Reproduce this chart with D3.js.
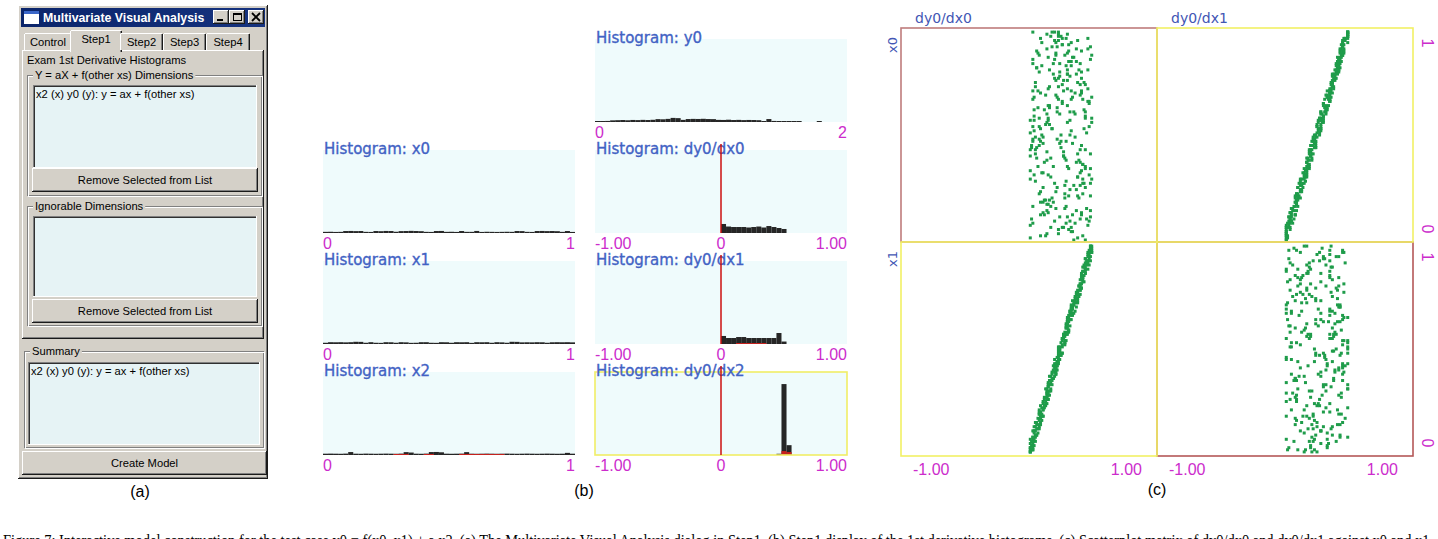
<!DOCTYPE html>
<html><head><meta charset="utf-8">
<script src="https://cdn.jsdelivr.net/npm/d3@7"></script>
<style>body{margin:0;background:#fff}svg{display:block}</style>
</head><body>
<script>
// ---------------- DATA ----------------
const tabLabels = ["Control", "Step1", "Step2", "Step3", "Step4"];
const dimensionItems = ["x2 (x) y0 (y): y = ax + f(other xs)"];
const ignorableItems = [];
const summaryItems = ["x2 (x) y0 (y): y = ax + f(other xs)"];

// histogram counts, 50 bins each
const x0Counts = [14,15,13,14,24,25,23,24,14,13,24,22,25,24,15,23,24,26,24,22,14,13,24,25,14,15,13,24,14,14,25,13,15,14,13,14,15,14,24,23,14,13,24,25,23,24,22,14,24,13];
const x1Counts = [15,22,21,22,20,22,27,26,15,22,15,14,22,21,15,22,20,14,15,22,22,15,14,22,21,15,22,21,22,14,22,21,22,15,22,20,15,27,26,20,21,20,22,21,15,21,22,21,22,20];
const x2Counts = [16,17,16,15,17,36,16,15,17,16,15,16,17,16,15,17,35,30,16,15,17,36,37,33,16,15,16,17,35,16,15,16,17,16,15,16,17,16,15,16,17,16,15,16,17,16,15,16,26,16];
const x2Selected = [0,0,0,0,0,0,0,0,0,0,0,0,0,0,11,12,11,0,0,0,11,12,0,0,0,0,0,11,12,11,12,11,12,11,12,11,0,0,0,0,0,0,0,0,0,0,0,0,0,0];
const y0Counts = [10,12,13,20,22,24,21,25,23,26,24,27,35,33,38,50,47,26,36,38,37,39,36,35,26,25,28,24,26,23,25,24,22,12,36,13,11,12,10,12,11,0,0,0,12,0,0,0,0,0];
const dx0Counts = [0,0,0,0,0,0,0,0,0,0,0,0,0,0,0,0,0,0,0,0,0,0,0,0,0,110,79,73,73,73,67,73,79,67,85,73,61,49,0,0,0,0,0,0,0,0,0,0,0,0];
const dx1Counts = [0,0,0,0,0,0,0,0,0,0,0,0,0,0,0,0,0,0,0,0,0,0,0,0,0,98,73,73,85,85,73,73,73,73,73,73,134,30,0,0,0,0,0,0,0,0,0,0,0,0];
const dx1Selected = [0,0,0,0,0,0,0,0,0,0,0,0,0,0,0,0,0,0,0,0,0,0,0,0,0,0,0,0,9,10,11,10,9,10,0,0,0,0,0,0,0,0,0,0,0,0,0,0,0,0];
const dx2Counts = [0,0,0,0,0,0,0,0,0,0,0,0,0,0,0,0,0,0,0,0,0,0,0,0,0,0,0,0,0,0,0,0,0,0,0,0,15,865,120,0,0,0,0,0,0,0,0,0,0,0];
const dx2Selected = [0,0,0,0,0,0,0,0,0,0,0,0,0,0,0,0,0,0,0,0,0,0,0,0,0,0,0,0,0,0,0,0,0,0,0,0,0,48,36,0,0,0,0,0,0,0,0,0,0,0];

const xTickVals = [0, 1], xTickLabels = ["0", "1"];
const y0TickVals = [0, 2], y0TickLabels = ["0", "2"];
const dTickVals = [-1, 0, 1], dTickLabels = ["-1.00", "0", "1.00"];
const unitTickVals = [0, 1], unitTickLabels = ["0", "1"];

// samples (hundredths) used by the scatterplot matrix
const x0Samples = [37,82,5,64,91,23,48,70,13,56,88,31,67,9,44,75,19,96,52,27,60,3,85,41,72,16,94,35,58,80,11,47,69,26,99,54,8,83,38,62,21,77,43,90,15,66,32,87,50,6,73,29,95,57,12,84,40,68,2,46,93,18,61,34,79,7,53,25,89,71,36,65,10,81,49,97,22,59,76,4,55,14,86,30,63,42,98,17,74,51,28,92,45,1,78,33,67,86,20,58,9,71,39,84,24,62,95,11,47,80,53,16,90,36,73,0,57,29,66,42,77,3,49,88,21,64,34,99,12,70,45,83,27,60,8,93,51,18,75,38,97,32,69,14,56,81,6,43,89,25,63,10,78,48,30,92,19,72,54,1,85,40,22,67,96,35,61,13,80,47,26,58,94,5,74,44,87,31,68,15,50,79,37,98,20,65,9,83,41,57,12,91,46,70,28,55,2,76,33,95,68,24,82,39,61,17,89,52,7,73,34,99,11,58,84,43,26,71,96,18,81,6,62,30,47,93,15,66,37,79,4,54,88,22,72,49,97,10,63,41,59,35,14,77,91,27,68,46,85,20,90,48,71,8,53,38,81,23,60,99,16,86,32,64,2,75,44,94,29,56,74,21,57,96,40,12,69,35,87,50,43,67,0,84,25,79,53,6,92,31,98,13,76,45,61,19,88,39,71,27];
const x1Samples = [72,14,58,33,96,41,7,85,26,63,19,90,47,68,2,77,35,54,11,83,45,29,71,8,92,60,38,17,86,50,97,62,24,81,43,13,75,57,30,4,66,39,88,15,53,95,21,70,47,34,9,84,42,61,27,78,56,99,18,73,52,25,67,91,36,3,82,44,64,12,87,48,6,58,74,31,16,93,40,69,23,76,94,37,10,55,65,28,89,1,60,35,19,72,49,86,5,41,80,26,93,57,30,6,68,22,77,51,14,84,38,2,63,89,44,71,11,96,55,27,79,46,15,54,97,33,59,8,67,20,4,70,85,28,61,48,92,36,13,75,51,18,43,98,24,80,64,1,39,88,30,91,67,12,78,42,26,57,95,7,74,3,53,87,17,62,40,83,21,48,58,96,22,45,83,9,71,34,66,90,16,63,79,31,52,94,45,19,76,5,85,27,50,68,11,37,82,60,2,43,42,77,9,56,93,26,14,69,88,35,99,33,61,20,47,81,72,3,54,17,28,55,90,74,6,65,38,97,23,62,67,11,41,84,32,18,53,78,46,92,13,86,29,49,70,99,7,24,59,36,81,44,68,2,39,57,94,15,73,50,35,8,76,63,25,89,47,66,1,98,55,73,32,91,57,14,80,42,29,64,6,69,87,40,18,75,23,51,96,10,48,21,56,79,64,31,97,12,84,37];
const dx0Samples = [37,6,31,16,46,21,3,41,15,30,8,47,23,32,2,38,16,29,4,42,24,14,33,5,46,29,21,7,44,24,48,29,13,40,20,8,36,29,14,4,31,20,44,6,28,46,11,34,25,17,5,42,20,32,12,40,27,49,9,34,26,11,35,44,19,1,43,22,30,7,42,26,2,30,36,17,8,44,21,34,13,37,48,17,7,27,30,15,44,1,29,18,8,38,24,41,3,20,39,15,47,27,17,3,32,12,38,24,9,41,18,3,31,42,23,35,4,49,26,14,41,23,5,28,48,15,31,3,34,9,2,33,43,14,29,26,45,19,5,39,23,10,21,48,14,39,33,1,21,44,16,45,32,8,38,22,12,30,47,1,37,1,28,42,9,30,22,41,8,25,28,49,10,23,40,6,35,15,34,45,10,30,40,14,28,47,20,10,38,1,41,14,24,36,5,16,42,30,1,23,22,37,6,28,44,14,7,33,46,16,48,18,30,8,24,40,35,3,26,9,16,27,43,38,3,31,21,47,12,30,33,3,21,42,15,11,25,40,22,48,4,44,14,23,37,48,4,11,31,18,41,22,33,3,18,29,46,9,36,23,17,3,40,30,13,43,25,33,1,49,26,38,15,46,27,9,40,19,15,32,5,33,44,19,11,37,9,26,48,4,23,11,27,41,32,13,49,6,41,20];
const dx1Samples = [17,41,4,30,46,12,23,35,4,30,44,17,31,5,23,36,9,46,28,12,32,1,43,21,35,8,45,19,28,40,3,24,35,12,49,25,6,40,19,33,11,39,20,45,5,35,15,43,27,1,37,13,47,26,8,41,20,36,1,24,45,9,28,19,38,3,28,10,45,36,18,30,7,39,24,49,9,30,39,1,25,9,42,15,33,19,49,9,36,25,16,45,22,2,37,17,34,42,10,27,3,35,21,40,13,32,46,5,21,42,26,10,43,19,37,1,28,12,35,20,40,1,25,45,9,32,15,49,5,35,20,42,14,29,4,44,27,8,37,21,49,17,33,7,26,42,2,21,46,10,32,4,39,22,17,45,9,38,25,1,41,20,9,35,47,17,32,4,41,24,13,27,49,1,37,24,41,16,35,6,23,41,17,49,12,30,5,42,19,28,8,44,23,37,12,28,2,37,16,45,33,12,43,17,31,9,43,26,1,38,17,49,3,30,43,20,13,33,49,8,42,1,32,16,22,46,5,35,17,39,1,28,45,10,36,22,49,4,31,22,30,18,6,38,43,15,33,23,44,8,46,23,35,2,28,18,40,13,28,49,7,43,14,34,1,37,24,45,15,29,37,8,30,47,20,8,32,18,44,24,19,35,1,42,14,37,27,4,45,15,49,5,38,24,28,10,45,18,35,11];

const captionText = "Figure 7: Interactive model construction for the test case y0 = f(x0, x1) + a x2. (a) The Multivariate Visual Analysis dialog in Step1. (b) Step1 display of the 1st derivative histograms. (c) Scatterplot matrix of dy0/dx0 and dy0/dx1 against x0 and x1.";

// ---------------- DRAW ----------------
const W = 1438, H = 539;
const UI = "'Liberation Sans', Arial, sans-serif";
const DV = "'DejaVu Sans', Verdana, sans-serif";
const svg = d3.select("body").append("svg").attr("width", W).attr("height", H);
svg.append("rect").attr("width", W).attr("height", H).attr("fill", "#fff");
const defs = svg.append("defs");
const grad = defs.append("linearGradient").attr("id", "tb");
grad.append("stop").attr("offset", "0%").attr("stop-color", "#0a246a");
grad.append("stop").attr("offset", "100%").attr("stop-color", "#16337f");
const g = svg.append("g");

function R(x, y, w, h, fill, stroke, sw) {
  return g.append("rect").attr("x", x).attr("y", y).attr("width", w).attr("height", h)
    .attr("fill", fill || "none").attr("stroke", stroke || "none").attr("stroke-width", sw || 1);
}
function L(x1, y1, x2, y2, c, sw) {
  return g.append("line").attr("x1", x1).attr("y1", y1).attr("x2", x2).attr("y2", y2)
    .attr("stroke", c).attr("stroke-width", sw || 1);
}
function T(x, y, s, size, fill, anchor, fam) {
  return g.append("text").attr("x", x).attr("y", y).text(s)
    .attr("font-family", fam || UI).attr("font-size", size)
    .attr("fill", fill || "#000").attr("text-anchor", anchor || "start");
}
function raised(x, y, w, h) {
  R(x, y, w, h, "#d4d0c8");
  L(x, y + 0.5, x + w - 1, y + 0.5, "#fff"); L(x + 0.5, y, x + 0.5, y + h - 1, "#fff");
  L(x, y + h - 0.5, x + w, y + h - 0.5, "#1a1a1a"); L(x + w - 0.5, y, x + w - 0.5, y + h, "#1a1a1a");
  L(x + 1, y + h - 1.5, x + w - 1, y + h - 1.5, "#808080"); L(x + w - 1.5, y + 1, x + w - 1.5, y + h - 1, "#808080");
}
function sunken(x, y, w, h, fill) {
  R(x, y, w, h, fill);
  L(x, y + 0.5, x + w, y + 0.5, "#808080"); L(x + 0.5, y, x + 0.5, y + h, "#808080");
  L(x + 1, y + 1.5, x + w - 1, y + 1.5, "#303030"); L(x + 1.5, y + 1, x + 1.5, y + h - 1, "#303030");
  L(x, y + h - 0.5, x + w, y + h - 0.5, "#fff"); L(x + w - 0.5, y, x + w - 0.5, y + h, "#fff");
}
function groupBox(x, y, w, h, label) {
  R(x + 0.5, y + 0.5, w - 1, h - 1, null, "#808080");
  R(x + 1.5, y + 1.5, w - 1, h - 1, null, "#fff");
  const t = T(x + 8, y + 4, label, 11.2, "#000");
  const bw = t.node().getComputedTextLength();
  R(x + 6, y - 2, bw + 4, 6, "#d4d0c8");
  t.raise();
}
function listBox(x, y, w, h, items) {
  sunken(x, y, w, h, "#e6f3f5");
  items.forEach((s, i) => T(x + 3, y + 13 + i * 13, s, 11.2, "#000"));
}
function button(x, y, w, h, label) {
  raised(x, y, w, h);
  T(x + w / 2, y + h / 2 + 4, label, 11.2, "#000", "middle");
}

// ---- panel (a) ----
raised(18, 5, 250, 474);
R(21, 8, 244, 19, "url(#tb)");
R(24, 11, 15, 13, "#fff"); R(24, 11, 15, 3, "#3a66c8");
T(43, 22, "Multivariate Visual Analysis", 12.3, "#fff").attr("font-weight", "bold");
raised(213, 10, 16, 14); raised(229, 10, 16, 14); raised(248, 10, 16, 14);
L(217, 20, 223, 20, "#000", 2);
R(233.5, 13.5, 8, 7, null, "#000", 1); L(233, 14, 242, 14, "#000", 2);
L(252, 13, 260, 21, "#000", 1.8); L(260, 13, 252, 21, "#000", 1.8);

raised(22, 50, 242, 289);
const tabEdges = [24, 72, 120, 163, 206, 250];
tabLabels.forEach((lab, i) => {
  const sel = i === 1;
  const x0 = tabEdges[i] - (sel ? 2 : 0), x1 = tabEdges[i + 1] + (sel ? 2 : 0);
  const y0 = sel ? 30 : 33, y1 = sel ? 52 : 50;
  R(x0, y0, x1 - x0, y1 - y0, "#d4d0c8");
  L(x0 + 0.5, y0 + 1, x0 + 0.5, y1, "#fff");
  L(x0 + 1, y0 + 0.5, x1 - 1, y0 + 0.5, "#fff");
  L(x1 - 0.5, y0 + 1, x1 - 0.5, y1, "#1a1a1a");
  L(x1 - 1.5, y0 + 1, x1 - 1.5, y1, "#808080");
  T((x0 + x1) / 2, sel ? 43 : 46, lab, 11.2, "#000", "middle");
});
T(27, 64, "Exam 1st Derivative Histograms", 11.2, "#000");
groupBox(27, 75, 235, 121, "Y = aX + f(other xs) Dimensions");
listBox(33, 85, 224, 83, dimensionItems);
button(32, 168, 226, 24, "Remove Selected from List");
groupBox(27, 206, 235, 120, "Ignorable Dimensions");
listBox(33, 216, 224, 81, ignorableItems);
button(32, 299, 226, 24, "Remove Selected from List");
groupBox(24, 351, 240, 97, "Summary");
listBox(28, 362, 232, 83, summaryItems);
button(22, 451, 245, 24, "Create Model");
T(140, 497, "(a)", 16, "#000", "middle");

// ---- panel (b) histograms ----
const colX = [323, 595], HW = 252, HH = 83;
const rowTop = [39, 150, 261, 372];
const hists = [
  { title: "Histogram: y0", col: 1, row: 0, dom: [0, 2], counts: y0Counts, tv: y0TickVals, tl: y0TickLabels },
  { title: "Histogram: x0", col: 0, row: 1, dom: [0, 1], counts: x0Counts, tv: xTickVals, tl: xTickLabels },
  { title: "Histogram: x1", col: 0, row: 2, dom: [0, 1], counts: x1Counts, tv: xTickVals, tl: xTickLabels },
  { title: "Histogram: x2", col: 0, row: 3, dom: [0, 1], counts: x2Counts, sel: x2Selected, tv: xTickVals, tl: xTickLabels },
  { title: "Histogram: dy0/dx0", col: 1, row: 1, dom: [-1, 1], counts: dx0Counts, tv: dTickVals, tl: dTickLabels, zero: true },
  { title: "Histogram: dy0/dx1", col: 1, row: 2, dom: [-1, 1], counts: dx1Counts, sel: dx1Selected, tv: dTickVals, tl: dTickLabels, zero: true },
  { title: "Histogram: dy0/dx2", col: 1, row: 3, dom: [-1, 1], counts: dx2Counts, sel: dx2Selected, tv: dTickVals, tl: dTickLabels, zero: true, box: true }
];
hists.forEach(h => {
  const left = colX[h.col], top = rowTop[h.row], base = top + HH;
  const xs = d3.scaleLinear().domain(h.dom).range([left, left + HW]);
  const ys = d3.scaleLinear().domain([0, 1000]).range([base, base - 82]);
  const nb = h.counts.length, step = (h.dom[1] - h.dom[0]) / nb;
  const gg = svg.append("g");
  gg.append("rect").attr("x", left).attr("y", top).attr("width", HW).attr("height", HH).attr("fill", "#effbfc");
  const drawBars = (arr, color) => {
    gg.selectAll(null).data(arr.map((c, i) => ({ c, i })).filter(d => d.c > 0)).enter().append("rect")
      .attr("x", d => xs(h.dom[0] + d.i * step))
      .attr("width", d => xs(h.dom[0] + (d.i + 1) * step) - xs(h.dom[0] + d.i * step))
      .attr("y", d => Math.min(ys(d.c), base - 1))
      .attr("height", d => Math.max(1, base - ys(d.c)))
      .attr("fill", color);
  };
  drawBars(h.counts, "#262626");
  if (h.sel) drawBars(h.sel, "#c8201c");
  if (h.box) gg.append("rect").attr("x", left).attr("y", top).attr("width", HW).attr("height", HH)
    .attr("fill", "none").attr("stroke", "#f0ee66").attr("stroke-width", 1.6);
  gg.append("text").attr("x", left + 1).attr("y", top + 4).text(h.title)
    .attr("font-family", DV).attr("font-size", 15).attr("fill", "#4262c4")
    .attr("stroke", "#4262c4").attr("stroke-width", 0.35);
  if (h.zero) gg.append("line").attr("x1", xs(0)).attr("x2", xs(0)).attr("y1", top - 6).attr("y2", base)
    .attr("stroke", "#cc1111").attr("stroke-width", 1.5);
  h.tv.forEach((v, i) => {
    const anchor = i === 0 ? "start" : (i === h.tv.length - 1 ? "end" : "middle");
    gg.append("text").attr("x", xs(v)).attr("y", base + 16).text(h.tl[i])
      .attr("font-family", UI).attr("font-size", 16).attr("fill", "#cc2ccc").attr("text-anchor", anchor);
  });
});
T(584, 496, "(b)", 16, "#000", "middle");

// ---- panel (c) scatterplot matrix ----
const sColX = [901, 1157], sRowY = [28, 242], SW = 256, SH = 214;
const cells = [
  { xv: dx0Samples, yv: x0Samples, c: 0, r: 0, border: "#bf7c7c" },
  { xv: dx1Samples, yv: x0Samples, c: 1, r: 0, border: "#f2f064" },
  { xv: dx0Samples, yv: x1Samples, c: 0, r: 1, border: "#f2f064" },
  { xv: dx1Samples, yv: x1Samples, c: 1, r: 1, border: "#b45858" }
];
const sg = svg.append("g");
cells.forEach(cell => {
  const left = sColX[cell.c], top = sRowY[cell.r];
  const xs = d3.scaleLinear().domain([-1, 1]).range([left, left + SW]);
  const ys = d3.scaleLinear().domain([0, 1]).range([top + SH - 2, top + 2]);
  sg.selectAll(null).data(d3.zip(cell.xv, cell.yv)).enter().append("rect")
    .attr("x", d => xs(d[0] / 100) - 1.5).attr("y", d => ys(d[1] / 100) - 1.5)
    .attr("width", 3).attr("height", 3).attr("fill", "#1f9c4a");
});
const order = [0, 3, 1, 2];
order.forEach(k => {
  const cell = cells[k];
  sg.append("rect").attr("x", sColX[cell.c]).attr("y", sRowY[cell.r]).attr("width", SW).attr("height", SH)
    .attr("fill", "none").attr("stroke", cell.border).attr("stroke-width", 1.6);
});
["dy0/dx0", "dy0/dx1"].forEach((s, i) => {
  sg.append("text").attr("x", sColX[i] + 14).attr("y", 23).text(s)
    .attr("font-family", DV).attr("font-size", 14).attr("fill", "#4256b4");
});
["x0", "x1"].forEach((s, i) => {
  const cy = sRowY[i] + 17;
  sg.append("text").attr("transform", `translate(897,${cy}) rotate(-90)`).text(s)
    .attr("font-family", DV).attr("font-size", 13).attr("fill", "#4256b4").attr("text-anchor", "middle");
});
sRowY.forEach(top => {
  const ys = d3.scaleLinear().domain([0, 1]).range([top + SH - 13, top + 15]);
  unitTickVals.forEach((v, i) => {
    sg.append("text").attr("transform", `translate(1422,${ys(v)}) rotate(90)`).text(unitTickLabels[i])
      .attr("font-family", UI).attr("font-size", 16).attr("fill", "#cc2ccc").attr("text-anchor", "middle");
  });
});
sColX.forEach(left => {
  const xs = d3.scaleLinear().domain([-1, 1]).range([left + 12, left + SW - 15]);
  [-1, 1].forEach((v, i) => {
    sg.append("text").attr("x", xs(v)).attr("y", 475).text(dTickLabels[i === 0 ? 0 : 2])
      .attr("font-family", UI).attr("font-size", 16).attr("fill", "#cc2ccc")
      .attr("text-anchor", i === 0 ? "start" : "end");
  });
});
T(1157, 495, "(c)", 16, "#000", "middle");

// caption (cut off at the bottom edge, as in the reference)
T(3, 546, captionText, 17, "#000", "start", "'Liberation Serif', 'Times New Roman', serif")
  .attr("textLength", 1430).attr("lengthAdjust", "spacingAndGlyphs");
</script>
</body></html>
